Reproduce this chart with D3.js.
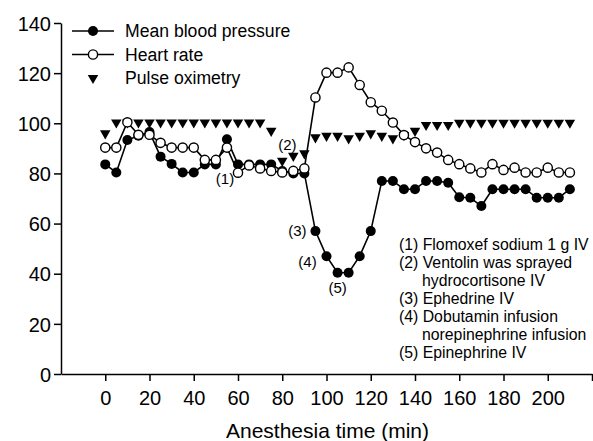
<!DOCTYPE html>
<html>
<head>
<meta charset="utf-8">
<script src="https://cdnjs.cloudflare.com/ajax/libs/d3/7.8.5/d3.min.js"></script>
<style>
  body { margin: 0; background: #fff; }
  text { font-family: "Liberation Sans", Arial, sans-serif; fill: #000; }
</style>
</head>
<body>
<div id="chart"></div>
<script>
// time points (min)
var times = [0, 5, 10, 15, 20, 25, 30, 35, 40, 45, 50, 55, 60, 65, 70, 75, 80, 85, 90, 95,
  100, 105, 110, 115, 120, 125, 130, 135, 140, 145, 150, 155, 160, 165, 170, 175, 180, 185,
  190, 195, 200, 205, 210];

var bloodPressure = [83.6, 80.4, 93.3, 95, 96.5, 86.7, 83.8, 80.4, 80.4, 83.6, 83.6, 93.6, 83.6,
  83.6, 83.6, 83.6, 81, 80, 80, 57, 47, 40.4, 40.4, 47, 57, 77, 77, 73.7, 73.7, 77, 77, 76.3,
  70.5, 70.3, 67, 73.7, 73.7, 73.7, 73.7, 70.3, 70.3, 70.3, 73.7];

var heartRate = [90.3, 90.3, 100.4, 95.4, 95.4, 92.2, 90.3, 90.3, 90.3, 85.4, 85.4, 90.3, 80.3,
  83.2, 82, 81, 80.4, 81, 82, 110.3, 120.2, 120.2, 122.3, 115.3, 108.4, 105, 100.3, 95.3, 92.5,
  90, 88.3, 85.4, 83.7, 82, 80.4, 83.7, 81.4, 82.3, 80.4, 80.4, 82.3, 80.4, 80.4];

var pulseOx = [96, 100.3, 100.3, 100.3, 100.3, 100.3, 100.3, 100.3, 100.3, 100.3, 100.3, 100.3,
  100.3, 100.3, 100.3, 97, 85, 87, 88, 94.4, 95, 95, 94, 95, 96, 95, 94, 95.3, 97, 99.3, 99.3,
  99.3, 100.2, 100.2, 100.2, 100.2, 100.2, 100.2, 100.2, 100.2, 100.2, 100.2, 100.2];

var xTicks = [0, 20, 40, 60, 80, 100, 120, 140, 160, 180, 200, 220];
var yTicks = [0, 20, 40, 60, 80, 100, 120, 140];

var legendNames = ["Mean blood pressure", "Heart rate", "Pulse oximetry"];

// event markers on the curve: [label, time, value]
var eventLabels = [["(1)", 60, 80.3], ["(2)", 85, 87], ["(3)", 95, 57], ["(4)", 100, 47], ["(5)", 105, 40.4]];

var notes = ["(1) Flomoxef sodium 1 g IV", "(2) Ventolin was sprayed", "hydrocortisone IV",
  "(3) Ephedrine IV", "(4) Dobutamin infusion", "norepinephrine infusion", "(5) Epinephrine IV"];

var svgWidth = 593;
var svgHeight = 441;

var svg = d3.select("#chart")
  .append("svg")
  .attr("width", svgWidth)
  .attr("height", svgHeight);

var xScale = d3.scaleLinear().domain([-20, 220]).range([61, 592]);
var yScale = d3.scaleLinear().domain([0, 140]).range([374, 23]);

// axes
var xAxis = d3.axisBottom(xScale)
  .tickValues(xTicks)
  .tickSize(7)
  .tickSizeOuter(0)
  .tickFormat(d => d === 220 ? "" : d);

var yAxis = d3.axisLeft(yScale)
  .tickValues(yTicks)
  .tickSize(7)
  .tickSizeOuter(0);

var gx = svg.append("g")
  .attr("transform", `translate(0, ${yScale(0)})`)
  .call(xAxis);

var gy = svg.append("g")
  .attr("transform", `translate(${xScale(-20)}, 0)`)
  .call(yAxis);

[gx, gy].forEach(function(g) {
  g.selectAll("path, line").attr("stroke", "#000").attr("stroke-width", 1.5);
  g.selectAll("text").attr("font-size", "20px").attr("fill", "#000")
    .style("font-family", "'Liberation Sans', Arial, sans-serif");
});
gx.selectAll("text").attr("dy", "1.05em");
gy.selectAll("text").attr("x", -10).attr("dy", "0.36em");

svg.append("text")
  .attr("x", (xScale(0) + xScale(200)) / 2 + 1)
  .attr("y", 438)
  .attr("text-anchor", "middle")
  .attr("font-size", "21px")
  .text("Anesthesia time (min)");

// lines
var line = function(values) {
  return d3.line()
    .x((d, i) => xScale(times[i]))
    .y(d => yScale(d))(values);
};

svg.append("path")
  .attr("d", line(bloodPressure))
  .attr("fill", "none")
  .attr("stroke", "#000")
  .attr("stroke-width", 1.6);

svg.append("path")
  .attr("d", line(heartRate))
  .attr("fill", "none")
  .attr("stroke", "#000")
  .attr("stroke-width", 1.6);

var triangle = d3.symbol().type(d3.symbolTriangle).size(48);

svg.selectAll(".ox")
  .data(pulseOx)
  .enter()
  .append("path")
  .attr("class", "ox")
  .attr("d", triangle)
  .attr("transform", (d, i) => `translate(${xScale(times[i])}, ${yScale(d)}) rotate(180)`)
  .attr("fill", "#000");

svg.selectAll(".bp")
  .data(bloodPressure)
  .enter()
  .append("circle")
  .attr("class", "bp")
  .attr("cx", (d, i) => xScale(times[i]))
  .attr("cy", d => yScale(d))
  .attr("r", 5)
  .attr("fill", "#000");

svg.selectAll(".hr")
  .data(heartRate)
  .enter()
  .append("circle")
  .attr("class", "hr")
  .attr("cx", (d, i) => xScale(times[i]))
  .attr("cy", d => yScale(d))
  .attr("r", 4.6)
  .attr("fill", "#fff")
  .attr("stroke", "#000")
  .attr("stroke-width", 1.4);

// event labels next to the points
var labelOffsets = [[-13, 6], [-6, -11], [-18, 0], [-19, 5], [0, 15]];
svg.selectAll(".ev")
  .data(eventLabels)
  .enter()
  .append("text")
  .attr("class", "ev")
  .attr("x", (d, i) => xScale(d[1]) + labelOffsets[i][0])
  .attr("y", (d, i) => yScale(d[2]) + labelOffsets[i][1])
  .attr("dy", "0.36em")
  .attr("text-anchor", "middle")
  .attr("font-size", "15px")
  .text(d => d[0]);

// notes box
svg.selectAll(".note")
  .data(notes)
  .enter()
  .append("text")
  .attr("class", "note")
  .attr("x", d => d.charAt(0) === "(" ? 399 : 422)
  .attr("y", (d, i) => 250 + i * 18)
  .attr("font-size", "15.8px")
  .text(d => d);

// legend
var legend = svg.selectAll(".legend")
  .data(legendNames)
  .enter()
  .append("g")
  .attr("class", "legend")
  .attr("transform", (d, i) => `translate(0, ${31 + i * 23.5})`);

legend.filter((d, i) => i < 2)
  .append("line")
  .attr("x1", 72).attr("x2", 114)
  .attr("stroke", "#000")
  .attr("stroke-width", 1.6);

legend.filter((d, i) => i === 0)
  .append("circle")
  .attr("cx", 93).attr("r", 5).attr("fill", "#000");

legend.filter((d, i) => i === 1)
  .append("circle")
  .attr("cx", 93).attr("r", 4.6).attr("fill", "#fff")
  .attr("stroke", "#000").attr("stroke-width", 1.4);

legend.filter((d, i) => i === 2)
  .append("path")
  .attr("d", triangle)
  .attr("transform", "translate(93, 0) rotate(180)")
  .attr("fill", "#000");

legend.append("text")
  .attr("x", 125)
  .attr("dy", "0.36em")
  .attr("font-size", "17.6px")
  .text(d => d);
</script>
</body>
</html>
